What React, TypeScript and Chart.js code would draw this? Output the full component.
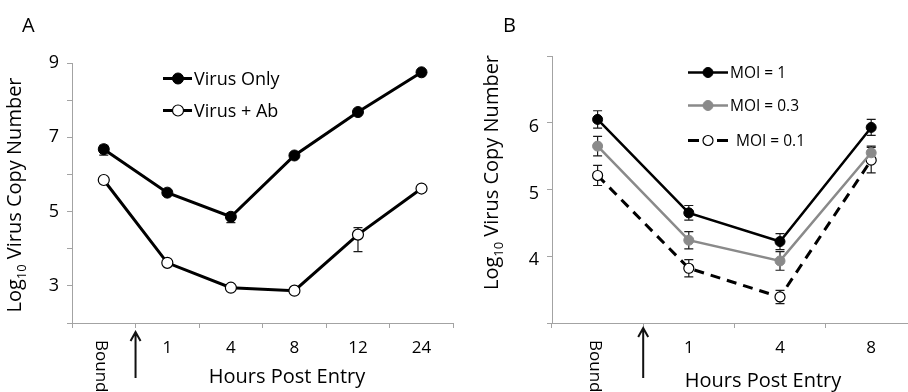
import React, { useEffect, useRef } from 'react';
import { Chart, registerables } from 'chart.js';
Chart.register(...registerables);

const FONT = '"Open Sans", sans-serif';
const AXIS = '#a3a3a3';

// ---------- Panel A data ----------
const categoriesA = ['Bound', '1', '4', '8', '12', '24'];
const virusOnly = [6.68, 5.51, 4.86, 6.51, 7.68, 8.75];
const virusOnlyErrLow = [0.16, 0, 0.16, 0, 0, 0];
const virusOnlyErrHigh = [0.1, 0, 0.1, 0, 0, 0];
const virusAb = [5.85, 3.62, 2.95, 2.87, 4.38, 5.62];
const virusAbErrLow = [0, 0, 0, 0, 0.46, 0];
const virusAbErrHigh = [0, 0, 0, 0, 0.19, 0];
const yLabelsA = [3, 5, 7, 9];

// ---------- Panel B data ----------
const categoriesB = ['Bound', '1', '4', '8'];
const moi1 = [6.05, 4.65, 4.22, 5.93];
const moi1Err = [0.13, 0.11, 0.12, 0.12];
const moi03 = [5.65, 4.24, 3.93, 5.55];
const moi03Err = [0.145, 0.13, 0.14, 0.1];
const moi01 = [5.21, 3.82, 3.39, 5.44];
const moi01Err = [0.15, 0.13, 0.1, 0.19];
const yLabelsB = [4, 5, 6];

type DecorCfg = {
  panel: string; panelX: number; panelY: number;
  yTitleX: number; yTitleY: number;
  xTitleX: number; xTitleY: number;
  boundTop: number; arrowTop: number; arrowBottom: number;
  legX0: number; legX1: number; legMarker: number; legFont: number;
  legRows: { y: number; textX: number }[];
};

function makeDecor(cfg: DecorCfg) {
  return {
    id: 'decor',
    beforeDatasetsDraw(chart: any) {
      const ctx = chart.ctx;
      const ys = chart.scales.y;
      chart.data.datasets.forEach((ds: any, di: number) => {
        if (!ds.errLow) return;
        const meta = chart.getDatasetMeta(di);
        ctx.save();
        ctx.strokeStyle = '#1a1a1a';
        ctx.lineWidth = 1.2;
        meta.data.forEach((pt: any, i: number) => {
          const lo = ds.errLow[i], hi = ds.errHigh[i];
          if (!lo && !hi) return;
          const v = ds.data[i];
          const yT = ys.getPixelForValue(v + hi);
          const yB = ys.getPixelForValue(v - lo);
          const x = pt.x, c = 4.5;
          ctx.beginPath();
          ctx.moveTo(x, yT); ctx.lineTo(x, yB);
          ctx.moveTo(x - c, yT); ctx.lineTo(x + c, yT);
          ctx.moveTo(x - c, yB); ctx.lineTo(x + c, yB);
          ctx.stroke();
        });
        ctx.restore();
      });
    },
    afterDraw(chart: any) {
      const ctx = chart.ctx;
      const xs = chart.scales.x;
      const area = chart.chartArea;
      ctx.save();
      ctx.fillStyle = '#000';
      // panel letter
      ctx.font = `20px ${FONT}`;
      ctx.textAlign = 'left';
      ctx.textBaseline = 'alphabetic';
      ctx.fillText(cfg.panel, cfg.panelX, cfg.panelY);

      // y title with subscript
      ctx.save();
      ctx.translate(cfg.yTitleX, cfg.yTitleY);
      ctx.rotate(-Math.PI / 2);
      const big = `20px ${FONT}`, small = `13px ${FONT}`;
      ctx.font = big; const w1 = ctx.measureText('Log').width;
      ctx.font = small; const w2 = ctx.measureText('10').width;
      ctx.font = big; const w3 = ctx.measureText(' Virus Copy Number').width;
      let cx = -(w1 + w2 + w3) / 2;
      ctx.font = big; ctx.fillText('Log', cx, 0); cx += w1;
      ctx.font = small; ctx.fillText('10', cx, 5); cx += w2;
      ctx.font = big; ctx.fillText(' Virus Copy Number', cx, 0);
      ctx.restore();

      // x title
      ctx.font = `20px ${FONT}`;
      ctx.textAlign = 'center';
      ctx.fillText('Hours Post Entry', cfg.xTitleX, cfg.xTitleY);

      // rotated "Bound" label
      const labels = chart.data.labels;
      ctx.save();
      ctx.translate(xs.getPixelForValue(0) - 3, cfg.boundTop);
      ctx.rotate(Math.PI / 2);
      ctx.font = `17px ${FONT}`;
      ctx.textAlign = 'left';
      ctx.textBaseline = 'middle';
      ctx.fillText(labels[0], 0, 0);
      ctx.restore();

      // arrow between first two categories
      const ax = (xs.getPixelForValue(0) + xs.getPixelForValue(1)) / 2;
      const top = area.bottom + cfg.arrowTop, bot = area.bottom + cfg.arrowBottom;
      ctx.strokeStyle = '#111';
      ctx.lineWidth = 2;
      ctx.beginPath();
      ctx.moveTo(ax, bot); ctx.lineTo(ax, top);
      ctx.moveTo(ax - 5, top + 9); ctx.lineTo(ax, top); ctx.lineTo(ax + 5, top + 9);
      ctx.stroke();

      // legend
      chart.data.datasets.forEach((ds: any, i: number) => {
        const row = cfg.legRows[i];
        if (!row) return;
        ctx.save();
        ctx.strokeStyle = ds.borderColor;
        ctx.lineWidth = ds.borderWidth;
        if (ds.borderDash && ds.borderDash.length) ctx.setLineDash([11, 18]);
        ctx.beginPath();
        ctx.moveTo(cfg.legX0, row.y); ctx.lineTo(cfg.legX1, row.y);
        ctx.stroke();
        ctx.setLineDash([]);
        ctx.beginPath();
        ctx.arc(cfg.legMarker, row.y, ds.pointRadius, 0, Math.PI * 2);
        ctx.fillStyle = ds.pointBackgroundColor;
        ctx.fill();
        ctx.lineWidth = ds.pointBorderWidth;
        ctx.strokeStyle = ds.pointBorderColor;
        ctx.stroke();
        ctx.fillStyle = '#000';
        ctx.font = `${cfg.legFont}px ${FONT}`;
        ctx.textAlign = 'left';
        ctx.textBaseline = 'alphabetic';
        ctx.fillText(ds.label, row.textX, row.y + cfg.legFont * 0.357);
        ctx.restore();
      });
      ctx.restore();
    },
  };
}

function baseOptions(opts: {
  min: number; max: number; labels: number[]; yWidth: number; xHeight: number;
  top: number; right: number; yPad: number; yOffset: number; cats: string[];
}) {
  return {
    responsive: false,
    animation: false as const,
    events: [] as any[],
    layout: { padding: { top: opts.top, right: opts.right, left: 0, bottom: 0 } },
    plugins: { legend: { display: false }, tooltip: { enabled: false }, title: { display: false } },
    scales: {
      x: {
        type: 'category' as const,
        offset: true,
        grid: { offset: true, drawOnChartArea: false, tickLength: 5, color: AXIS, lineWidth: 1 },
        border: { color: AXIS, width: 1 },
        ticks: {
          autoSkip: false, maxRotation: 0, minRotation: 0, padding: 10, color: '#000',
          font: { family: FONT, size: 17 },
          callback: (_v: any, i: number) => (i === 0 ? '' : opts.cats[i]),
        },
        afterFit: (s: any) => { s.height = opts.xHeight; },
      },
      y: {
        min: opts.min, max: opts.max,
        grid: { drawOnChartArea: false, tickLength: 5, color: AXIS, lineWidth: 1 },
        border: { color: AXIS, width: 1 },
        ticks: {
          stepSize: 1, padding: opts.yPad, labelOffset: opts.yOffset, color: '#000',
          font: { family: FONT, size: 18 },
          callback: (v: any) => (opts.labels.includes(Number(v)) ? String(v) : ''),
        },
        afterFit: (s: any) => { s.width = opts.yWidth; },
      },
    },
  };
}

function PanelA() {
  const ref = useRef<HTMLCanvasElement>(null);
  useEffect(() => {
    const chart = new Chart(ref.current as HTMLCanvasElement, {
      type: 'line',
      data: {
        labels: categoriesA,
        datasets: [
          {
            label: 'Virus Only', data: virusOnly, errLow: virusOnlyErrLow, errHigh: virusOnlyErrHigh,
            borderColor: '#000', borderWidth: 3, tension: 0,
            pointRadius: 5.5, pointBackgroundColor: '#000', pointBorderColor: '#000', pointBorderWidth: 1,
          } as any,
          {
            label: 'Virus + Ab', data: virusAb, errLow: virusAbErrLow, errHigh: virusAbErrHigh,
            borderColor: '#000', borderWidth: 3, tension: 0,
            pointRadius: 5.5, pointBackgroundColor: '#fff', pointBorderColor: '#000', pointBorderWidth: 1.2,
          } as any,
        ],
      },
      options: baseOptions({ min: 2, max: 9, labels: yLabelsA, yWidth: 72, xHeight: 69, top: 63, right: 6, yPad: 8, yOffset: 0, cats: categoriesA }) as any,
      plugins: [makeDecor({
        panel: 'A', panelX: 22, panelY: 32,
        yTitleX: 21, yTitleY: 195,
        xTitleX: 287, xTitleY: 383,
        boundTop: 340, arrowTop: 9, arrowBottom: 55,
        legX0: 163, legX1: 192, legMarker: 178, legFont: 18,
        legRows: [{ y: 78.5, textX: 194 }, { y: 110.5, textX: 194 }],
      })],
    });
    return () => chart.destroy();
  }, []);
  return <canvas ref={ref} width={460} height={392} style={{ width: 460, height: 392, display: 'block' }} />;
}

function PanelB() {
  const ref = useRef<HTMLCanvasElement>(null);
  useEffect(() => {
    const chart = new Chart(ref.current as HTMLCanvasElement, {
      type: 'line',
      data: {
        labels: categoriesB,
        datasets: [
          {
            label: 'MOI = 1', data: moi1, errLow: moi1Err, errHigh: moi1Err,
            borderColor: '#000', borderWidth: 2.5, tension: 0,
            pointRadius: 5, pointBackgroundColor: '#000', pointBorderColor: '#000', pointBorderWidth: 1,
          } as any,
          {
            label: 'MOI = 0.3', data: moi03, errLow: moi03Err, errHigh: moi03Err,
            borderColor: '#8a8a8a', borderWidth: 2.5, tension: 0,
            pointRadius: 5, pointBackgroundColor: '#8a8a8a', pointBorderColor: '#8a8a8a', pointBorderWidth: 1,
          } as any,
          {
            label: 'MOI = 0.1', data: moi01, errLow: moi01Err, errHigh: moi01Err,
            borderColor: '#000', borderWidth: 3, borderDash: [10, 7], tension: 0,
            pointRadius: 5, pointBackgroundColor: '#fff', pointBorderColor: '#000', pointBorderWidth: 1.2,
          } as any,
        ],
      },
      options: baseOptions({ min: 3, max: 7, labels: yLabelsB, yWidth: 92, xHeight: 69, top: 56, right: 6, yPad: 8, yOffset: 4, cats: categoriesB }) as any,
      plugins: [makeDecor({
        panel: 'B', panelX: 43, panelY: 32,
        yTitleX: 38, yTitleY: 172.5,
        xTitleX: 303, xTitleY: 387,
        boundTop: 340, arrowTop: 5, arrowBottom: 55,
        legX0: 228, legX1: 268, legMarker: 248, legFont: 15.5,
        legRows: [{ y: 72.5, textX: 270 }, { y: 105.5, textX: 270 }, { y: 140.5, textX: 276 }],
      })],
    });
    return () => chart.destroy();
  }, []);
  return <canvas ref={ref} width={463} height={392} style={{ width: 463, height: 392, display: 'block' }} />;
}

export default function App() {
  return (
    <div style={{ position: 'fixed', left: 0, top: 0, width: 908, height: 392, background: '#fff', overflow: 'hidden' }}>
      <div style={{ position: 'absolute', left: 0, top: 0, width: 460, height: 392 }}>
        <PanelA />
      </div>
      <div style={{ position: 'absolute', left: 460, top: 0, width: 448, height: 392, overflow: 'hidden' }}>
        <PanelB />
      </div>
    </div>
  );
}
